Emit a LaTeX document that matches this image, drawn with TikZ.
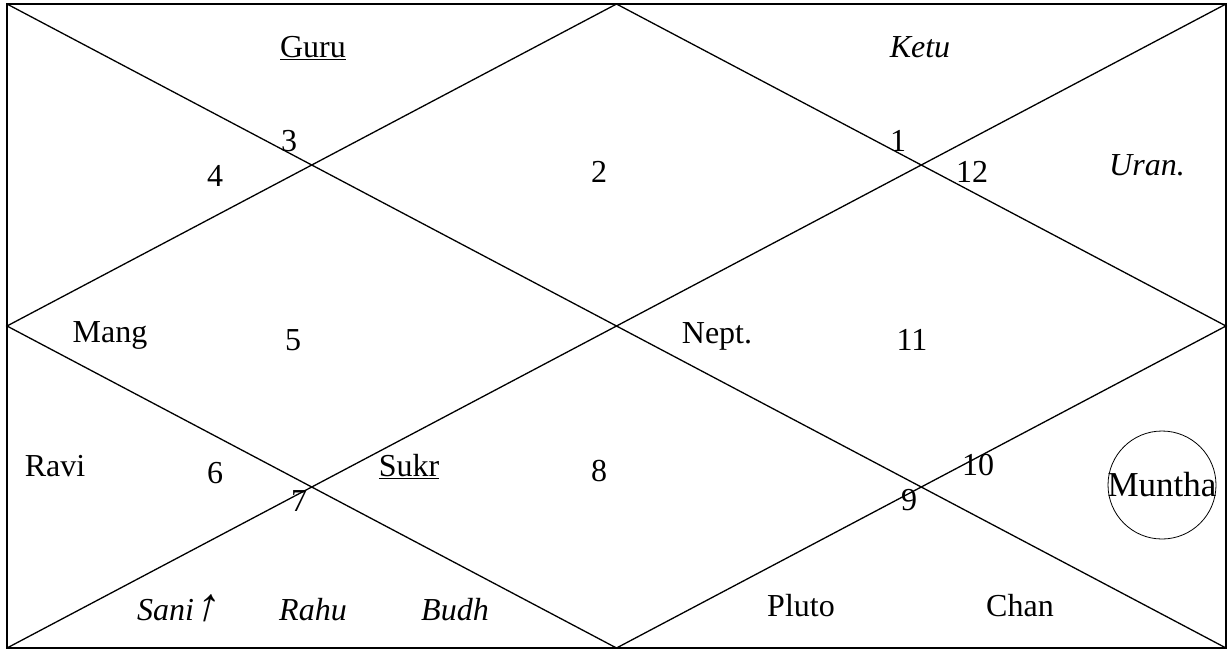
\documentclass[tikz,border=0pt]{standalone}
\usepackage{fontspec}
\setmainfont{Liberation Serif}
\newfontfamily\arrowfont{Liberation Serif}[FakeSlant=0.25]
\usetikzlibrary{positioning}

\begin{document}
\begin{tikzpicture}[x=1pt, y=-1pt,
    chartline/.style={black, line width=1.3pt},
    num/.style={font=\fontsize{32}{38}\selectfont, inner sep=0pt, anchor=base},
    graha/.style={font=\fontsize{32}{38}\selectfont, inner sep=0pt, anchor=base},
    vakri/.style={graha, font=\fontsize{32}{38}\selectfont\itshape}]

    % page size
    \useasboundingbox (0,0) rectangle (1230,649);

    % frame corners and midpoints
    \coordinate (nw) at (7,4);
    \coordinate (ne) at (1226,4);
    \coordinate (se) at (1226,648);
    \coordinate (sw) at (7,648);
    \coordinate (n) at (616.5,4);
    \coordinate (e) at (1226,326);
    \coordinate (s) at (616.5,648);
    \coordinate (w) at (7,326);

    % the chart
    \draw[chartline] (nw) rectangle (se);
    \draw[chartline] (nw) -- (se);
    \draw[chartline] (sw) -- (ne);
    \draw[chartline] (n) -- (w) -- (s) -- (e) -- cycle;

    % house numbers
    \node[num] (h1) at (898,151) {1};
    \node[num] (h2) at (599,182) {2};
    \node[num] (h3) at (289,151) {3};
    \node[num] (h4) at (215,186) {4};
    \node[num] (h5) at (293,350) {5};
    \node[num] (h6) at (215,483) {6};
    \node[num] (h7) at (299,511) {7};
    \node[num] (h8) at (599,481) {8};
    \node[num] (h9) at (909,510) {9};
    \node[num] (h10) at (978,475) {10};
    \node[num] (h11) at (912,350) {11};
    \node[num] (h12) at (972,182) {12};

    % planets
    \node[graha] (guru) at (313,57) {\underline{Guru}};
    \node[vakri] (ketu) at (920,57) {Ketu};
    \node[vakri] (uran) at (1147,175) {Uran.};
    \node[graha] (mang) at (110,342) {Mang};
    \node[graha] (nept) at (717,343) {Nept.};
    \node[graha] (ravi) at (55,476) {Ravi};
    \node[graha] (sukr) at (409,476) {\underline{Sukr}};
    \node[vakri] (sani) at (177,620) {Sani{\arrowfont\fontsize{46}{46}\selectfont ↑}};
    \node[vakri] (rahu) at (313,620) {Rahu};
    \node[vakri] (budh) at (455,620) {Budh};
    \node[graha] (pluto) at (801,616) {Pluto};
    \node[graha] (chan) at (1020,616) {Chan};

    % muntha
    \draw[line width=0.8pt] (1162,485) circle (54);
    \node[graha, font=\fontsize{35}{40}\selectfont] (muntha) at (1162,496) {Muntha};
\end{tikzpicture}
\end{document}
